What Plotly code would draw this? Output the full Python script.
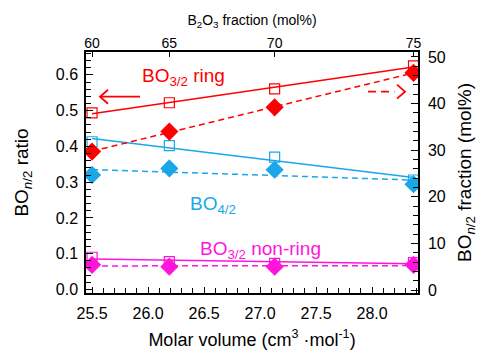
import numpy as np
import plotly.graph_objects as go

# Glass series: B2O3 content and corresponding molar volume
b2o3_mol = [60, 65, 70, 75]
molar_volume = [25.50, 26.19, 27.13, 28.37]

# BO_{n/2} ratio (left axis, open squares)
ring_ratio = [0.494, 0.522, 0.561, 0.625]
bo4_ratio = [0.413, 0.402, 0.370, 0.306]
nonring_ratio = [0.090, 0.078, 0.073, 0.075]

# BO_{n/2} fraction in mol% (right axis, filled diamonds)
ring_frac = [29.7, 34.0, 39.2, 46.6]
bo4_frac = [24.7, 26.1, 25.8, 22.7]
nonring_frac = [5.4, 5.0, 5.0, 5.4]

RED = "#FF0000"
BLUE = "#1AA7E8"
MAGENTA = "#FF14DC"
FONT = "Liberation Sans, Arial, sans-serif"

XR = [25.446, 28.41]
YL = [-0.01, 0.664]
YR = [-0.64, 51.07]

x = np.array(molar_volume)
xfit = np.array([x[0], x[-1]])


def fit(vals):
    p = np.polyfit(x, np.array(vals), 1)
    return np.polyval(p, xfit)


fig = go.Figure()

series = [
    (ring_ratio, ring_frac, RED),
    (bo4_ratio, bo4_frac, BLUE),
    (nonring_ratio, nonring_frac, MAGENTA),
]

for ratio, frac, col in series:
    # linear fits
    fig.add_trace(go.Scatter(x=xfit, y=fit(ratio), mode="lines",
                             line=dict(color=col, width=1.5),
                             yaxis="y", showlegend=False, hoverinfo="skip"))
    fig.add_trace(go.Scatter(x=xfit, y=fit(frac), mode="lines",
                             line=dict(color=col, width=1.5, dash="6px,4px"),
                             yaxis="y2", showlegend=False, hoverinfo="skip"))
    # data points
    fig.add_trace(go.Scatter(x=molar_volume, y=ratio, mode="markers",
                             marker=dict(symbol="square-open", size=10,
                                         color=col, line=dict(width=1.2, color=col)),
                             yaxis="y", showlegend=False))
    fig.add_trace(go.Scatter(x=molar_volume, y=frac, mode="markers",
                             marker=dict(symbol="diamond", size=14, color=col,
                                         line=dict(width=0)),
                             yaxis="y2", showlegend=False))

# invisible trace to activate the top composition axis
fig.add_trace(go.Scatter(x=molar_volume, y=ring_ratio, xaxis="x2", yaxis="y",
                         mode="markers", marker=dict(opacity=0),
                         showlegend=False, hoverinfo="skip"))

axis_common = dict(showline=True, linecolor="black", linewidth=1.5,
                   ticks="inside", tickcolor="black", tickwidth=1.2,
                   showgrid=False, zeroline=False, automargin=False)

fig.update_layout(
    width=478, height=354,
    margin=dict(l=86, r=60, t=52, b=61),
    paper_bgcolor="white", plot_bgcolor="white",
    font=dict(family=FONT, color="black"),
    showlegend=False,
    xaxis=dict(range=XR, dtick=0.5, tick0=25.5, tickformat=".1f", ticklen=6,
               minor=dict(dtick=0.1, tick0=25.5, ticks="inside", ticklen=5,
                          tickcolor="black", tickwidth=1.2),
               tickfont=dict(size=16), ticklabelstandoff=5,
               title=dict(text="Molar volume (cm<sup>3</sup> \u00b7mol<sup>-1</sup>)",
                          font=dict(size=18), standoff=12),
               **axis_common),
    xaxis2=dict(range=XR, overlaying="x", side="top", tickvals=molar_volume,
                ticktext=[str(v) for v in b2o3_mol], ticklen=5,
                tickfont=dict(size=14), ticklabelstandoff=-3,
                title=dict(text="B<sub>2</sub>O<sub>3</sub> fraction (mol%)",
                           font=dict(size=14), standoff=6),
                **axis_common),
    yaxis=dict(range=YL, dtick=0.1, tick0=0, tickformat=".1f", ticklen=7,
               minor=dict(dtick=0.02, tick0=0, ticks="inside", ticklen=5,
                          tickcolor="black", tickwidth=1.2),
               tickfont=dict(size=16), ticklabelstandoff=3,
               title=dict(text="BO<sub><i>n</i>/2</sub> ratio",
                          font=dict(size=19), standoff=22),
               **axis_common),
    yaxis2=dict(range=YR, overlaying="y", side="right", dtick=10, tick0=0,
                ticklen=7,
                minor=dict(dtick=2, tick0=0, ticks="inside", ticklen=5,
                           tickcolor="black", tickwidth=1.2),
                tickfont=dict(size=16), ticklabelstandoff=5,
                title=dict(text="BO<sub><i>n</i>/2</sub> fraction (mol%)",
                           font=dict(size=19), standoff=14),
                **axis_common),
)

# series labels
fig.add_annotation(x=26.32, y=0.594, xref="x", yref="y", showarrow=False,
                   text="BO<sub>3/2</sub> ring", font=dict(size=19, color=RED),
                   xanchor="center", yanchor="middle")
fig.add_annotation(x=26.58, y=0.236, xref="x", yref="y", showarrow=False,
                   text="BO<sub>4/2</sub>", font=dict(size=19, color=BLUE),
                   xanchor="center", yanchor="middle")
fig.add_annotation(x=27.0, y=0.110, xref="x", yref="y", showarrow=False,
                   text="BO<sub>3/2</sub> non-ring", font=dict(size=19, color=MAGENTA),
                   xanchor="center", yanchor="middle")

# direction arrows: shafts in data units, chevron heads in pixels
chevron_left = "M 8,7 L 0,0 L 8,-7"
chevron_right = "M -8,7 L 0,0 L -8,-7"

fig.add_shape(type="line", x0=25.575, x1=25.928, y0=0.539, y1=0.539,
              xref="x", yref="y", line=dict(color=RED, width=1.8))
fig.add_shape(type="path", path=chevron_left, xref="x", yref="y",
              xsizemode="pixel", ysizemode="pixel", xanchor=25.571, yanchor=0.539,
              line=dict(color=RED, width=1.8))

fig.add_shape(type="line", x0=27.964, x1=28.20, y0=0.553, y1=0.553,
              xref="x", yref="y", line=dict(color=RED, width=1.8, dash="8px,5px"))
fig.add_shape(type="path", path=chevron_right, xref="x", yref="y",
              xsizemode="pixel", ysizemode="pixel", xanchor=28.294, yanchor=0.553,
              line=dict(color=RED, width=1.8))

fig.write_html("out.html")
